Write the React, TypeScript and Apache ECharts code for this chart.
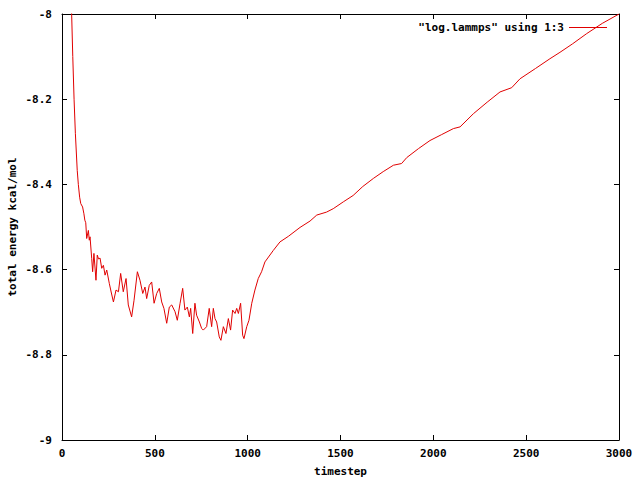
import * as echarts from 'echarts'
import { useEffect, useRef } from 'react'

// timestep (column 1) and total energy (column 3)
const timesteps = [
  0, 20, 40, 52, 58, 65, 72, 82, 88, 95, 101, 111, 118, 123, 128, 133, 142, 147, 151, 160,
  165, 172, 183, 190, 197, 205, 214, 223, 232, 241, 255, 266, 277, 291, 304, 316, 330, 345, 357, 375,
  388, 406, 420, 435, 447, 456, 470, 483, 496, 510, 524, 537, 549, 564, 578, 591, 609, 621, 636, 650,
  662, 675, 686, 693, 704, 716, 725, 740, 752, 761, 779, 793, 806, 815, 824, 833, 847, 856, 869, 883,
  896, 908, 919, 932, 941, 950, 962, 973, 980, 995, 1007, 1022, 1039, 1057, 1075, 1093, 1138, 1174, 1219, 1282,
  1336, 1372, 1425, 1461, 1515, 1568, 1620, 1677, 1730, 1785, 1829, 1857, 1920, 1982, 2045, 2108, 2144, 2216, 2290, 2359,
  2422, 2467, 2550, 2628, 2682, 2750, 2826, 2910, 3000
]
const energy = [
  -7.2, -7.55, -7.82, -8.0, -8.1, -8.2, -8.28, -8.367, -8.4, -8.43, -8.445, -8.453, -8.469, -8.484, -8.49, -8.527, -8.508, -8.531, -8.523, -8.574,
  -8.605, -8.562, -8.625, -8.566, -8.575, -8.573, -8.597, -8.59, -8.613, -8.601, -8.633, -8.655, -8.676, -8.648, -8.652, -8.609, -8.652, -8.621, -8.683, -8.711,
  -8.672, -8.605, -8.625, -8.656, -8.641, -8.668, -8.637, -8.629, -8.679, -8.656, -8.644, -8.676, -8.691, -8.726, -8.688, -8.683, -8.699, -8.719, -8.679, -8.644,
  -8.695, -8.688, -8.711, -8.691, -8.75, -8.679, -8.707, -8.723, -8.738, -8.742, -8.734, -8.691, -8.734, -8.691, -8.715, -8.723, -8.758, -8.766, -8.734, -8.75,
  -8.715, -8.742, -8.695, -8.703, -8.691, -8.703, -8.679, -8.754, -8.762, -8.734, -8.719, -8.679, -8.648, -8.621, -8.605, -8.582, -8.555, -8.535, -8.522, -8.501,
  -8.486, -8.472, -8.465, -8.457, -8.441, -8.426, -8.405, -8.386, -8.37, -8.355, -8.351, -8.337, -8.316, -8.297, -8.283, -8.269, -8.265, -8.234, -8.207, -8.183,
  -8.173, -8.152, -8.128, -8.105, -8.09, -8.07, -8.046, -8.022, -8.0
]

const seriesName = '"log.lammps" using 1:3'
const font = { fontFamily: 'DejaVu Sans Mono', fontWeight: 'bold' as const, fontSize: 11, color: '#000' }

export default function App() {
  const chartRef = useRef<HTMLDivElement>(null)

  useEffect(() => {
    if (!chartRef.current) return
    const chart = echarts.init(chartRef.current, null, { renderer: 'svg' })

    const axisLine = { show: true, onZero: false, lineStyle: { color: '#000', width: 1 } }
    const axisTick = { show: true, inside: true, length: 5, lineStyle: { color: '#000', width: 1 } }

    chart.setOption({
      animation: false,
      backgroundColor: '#fff',
      grid: {
        left: 62, right: 21, top: 14, bottom: 40,
        containLabel: false, outerBoundsMode: 'none'
      },
      legend: {
        data: [{ name: seriesName, icon: 'rect' }],
        right: 28,
        top: 17,
        align: 'right',
        itemWidth: 38,
        itemHeight: 1,
        itemGap: 8,
        textStyle: { ...font, padding: [0, 0, 0, 0] }
      },
      xAxis: [
        {
          type: 'value', min: 0, max: 3000, interval: 500,
          name: 'timestep', nameLocation: 'middle', nameGap: 26, nameMoveOverlap: false, nameTextStyle: font,
          axisLine, axisTick, splitLine: { show: false },
          axisLabel: { ...font, margin: 8, formatter: (v: number) => String(v) }
        },
        {
          // mirrored top frame with inward ticks
          type: 'value', position: 'top', min: 0, max: 3000, interval: 500,
          axisLine, axisTick, splitLine: { show: false }, axisLabel: { show: false }
        }
      ],
      yAxis: [
        {
          type: 'value', min: -9, max: -8, interval: 0.2,
          name: 'total energy kcal/mol', nameLocation: 'middle', nameGap: 44, nameMoveOverlap: false, nameTextStyle: font,
          axisLine, axisTick, splitLine: { show: false },
          axisLabel: { ...font, margin: 10 }
        },
        {
          // mirrored right frame
          type: 'value', position: 'right', min: -9, max: -8, interval: 0.2,
          axisLine, axisTick, splitLine: { show: false }, axisLabel: { show: false }
        }
      ],
      series: [
        {
          name: seriesName,
          type: 'line',
          data: timesteps.map((t, i) => [t, energy[i]]),
          showSymbol: false,
          symbol: 'none',
          clip: true,
          lineStyle: { color: '#e00000', width: 1 },
          itemStyle: { color: '#e00000' }
        }
      ]
    })
    return () => chart.dispose()
  }, [])

  return <div ref={chartRef} style={{ position: 'fixed', left: 0, top: 0, width: 640, height: 480 }} />
}
